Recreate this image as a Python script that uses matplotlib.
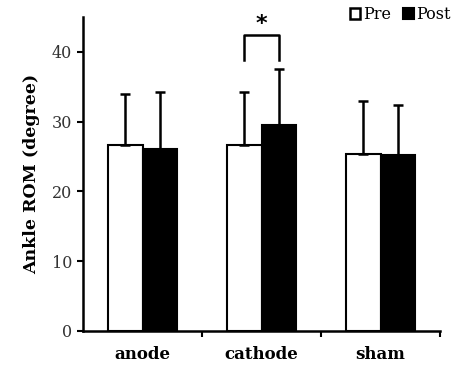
import matplotlib
matplotlib.use("Agg")
import matplotlib.pyplot as plt
import numpy as np
from matplotlib.patches import Patch

categories = ["anode", "cathode", "sham"]
pre_mean = [26.7, 26.6, 25.4]
pre_sd = [7.3, 7.6, 7.6]
post_mean = [26.1, 29.5, 25.3]
post_sd = [8.2, 8.1, 7.1]
yticks = [0, 10, 20, 30, 40]

plt.rcParams['font.family'] = ['DejaVu Serif']

fig = plt.figure(figsize=(4.52, 3.65), dpi=100)
ax = fig.add_axes([0.1836, 0.0932, 0.79, 0.86])

x = np.arange(len(categories))
w = 0.29
ax.bar(x - w/2, pre_mean, w, color='white', edgecolor='black', linewidth=1.5,
       yerr=[np.zeros(3), pre_sd], error_kw=dict(ecolor='black', elinewidth=1.8, capsize=3.5, capthick=1.8))
ax.bar(x + w/2, post_mean, w, color='black', edgecolor='black', linewidth=1.5,
       yerr=[np.zeros(3), post_sd], error_kw=dict(ecolor='black', elinewidth=1.8, capsize=3.5, capthick=1.8))

ax.set_xlim(-0.5, 2.5)
ax.set_ylim(0, 45)
ax.set_yticks(yticks)
ax.set_yticklabels([str(t) for t in yticks], fontsize=11.5, color='#333333')
ax.set_xticks([0.5, 1.5, 2.5], minor=False)
ax.set_xticklabels([])
ax.set_xticks(x, minor=True)
ax.set_xticklabels(categories, minor=True, fontsize=12, fontweight='bold')
ax.tick_params(axis='x', which='minor', length=0, pad=11)
ax.tick_params(axis='x', which='major', length=4, width=1.5, direction='out')
ax.tick_params(axis='y', length=4, width=1.5, direction='out', pad=4)
for s in ['top', 'right']:
    ax.spines[s].set_visible(False)
for s in ['left', 'bottom']:
    ax.spines[s].set_linewidth(1.8)

ax.set_ylabel("Ankle ROM (degree)", fontsize=12.5, fontweight='bold', labelpad=8)

# significance bracket
x1, x2 = 1 - w/2, 1 + w/2
ax.plot([x1, x1, x2, x2], [38.9, 42.4, 42.4, 38.8], color='black', lw=1.8)
ax.text(1, 42.6, "*", ha='center', va='bottom', fontsize=16, family='DejaVu Sans', fontweight='bold')

handles = [Patch(facecolor='white', edgecolor='black', linewidth=1.8),
           Patch(facecolor='black', edgecolor='black', linewidth=1.5)]
leg = ax.legend(handles, ["Pre", "Post"], ncol=2, frameon=False, loc='upper right',
                bbox_to_anchor=(1.07, 1.08), handlelength=0.65, handleheight=0.65,
                handletextpad=0.15, columnspacing=0.8, fontsize=11.5)

fig.savefig("out.png", dpi=100)
